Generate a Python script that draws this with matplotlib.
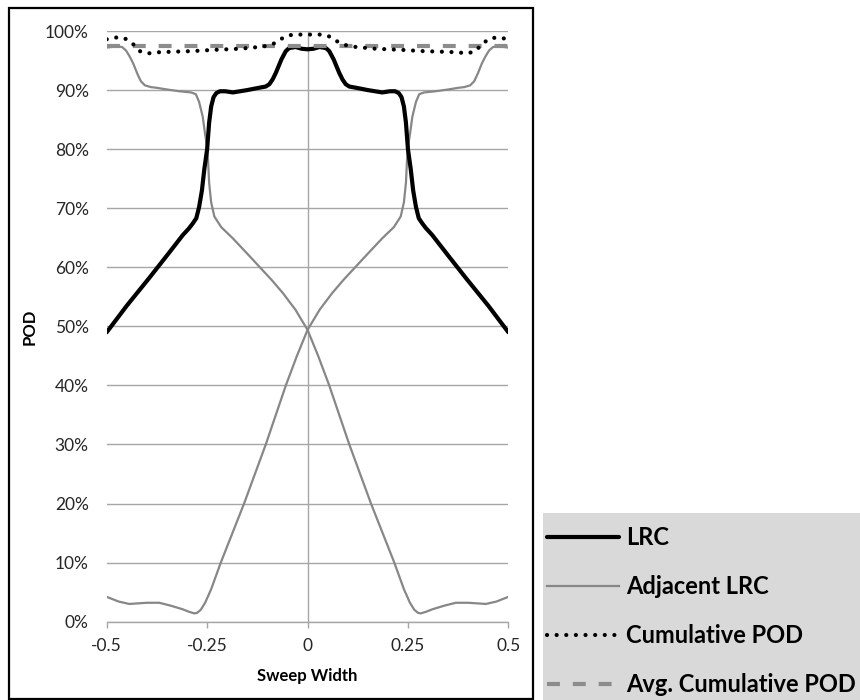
#!/usr/bin/env python3
# -*- coding: utf-8 -*-

import matplotlib
matplotlib.use("Agg")
import matplotlib.pyplot as plt
from matplotlib.patches import Rectangle
from matplotlib.ticker import PercentFormatter

plt.rcParams["font.family"] = ["Lato", "DejaVu Sans"]

# values (sweep width, POD in %)
lrc_x = [-0.5, -0.45, -0.394, -0.35, -0.31, -0.295, -0.286, -0.277, -0.27, -0.263,
         -0.257, -0.25, -0.245, -0.24, -0.234, -0.227, -0.218, -0.205, -0.186, -0.15,
         -0.12, -0.104, -0.095, -0.087, -0.079, -0.065, -0.054, -0.046, -0.03, -0.015,
         0.0, 0.015, 0.03, 0.046, 0.054, 0.065, 0.079, 0.087, 0.095, 0.104,
         0.12, 0.15, 0.186, 0.205, 0.218, 0.227, 0.234, 0.24, 0.245, 0.25,
         0.257, 0.263, 0.27, 0.277, 0.286, 0.295, 0.31, 0.35, 0.394, 0.45, 0.5]
lrc_y = [49.0, 53.5, 58.2, 62.0, 65.5, 66.6, 67.4, 68.3, 70.2, 73.0,
         76.6, 80.0, 84.5, 87.2, 88.8, 89.5, 89.8, 89.8, 89.6, 90.0,
         90.4, 90.6, 91.0, 91.8, 92.9, 95.2, 96.6, 97.1, 97.3, 97.0,
         96.9, 97.0, 97.3, 97.1, 96.6, 95.2, 92.9, 91.8, 91.0, 90.6,
         90.4, 90.0, 89.6, 89.8, 89.8, 89.5, 88.8, 87.2, 84.5, 80.0,
         76.6, 73.0, 70.2, 68.3, 67.4, 66.6, 65.5, 62.0, 58.2, 53.5, 49.0]

adj_left_x = [-0.5, -0.475, -0.462, -0.452, -0.443, -0.434, -0.424, -0.415, -0.405, -0.39,
              -0.377, -0.35, -0.319, -0.29, -0.278, -0.27, -0.261, -0.255, -0.249, -0.245,
              -0.24, -0.232, -0.215, -0.186, -0.15, -0.12, -0.09, -0.061, -0.03, 0.0,
              0.027, 0.054, 0.079, 0.104, 0.131, 0.158, 0.187, 0.216, 0.24, 0.255,
              0.266, 0.275, 0.282, 0.296, 0.311, 0.34, 0.369, 0.40, 0.444, 0.47, 0.5]
adj_left_y = [97.2, 97.4, 97.3, 96.7, 95.7, 94.5, 92.8, 91.5, 90.8, 90.5,
              90.4, 90.1, 89.8, 89.6, 89.3, 88.0, 85.5, 82.5, 79.9, 74.3,
              71.0, 68.6, 66.8, 64.9, 62.3, 60.1, 57.9, 55.6, 52.8, 49.4,
              44.9, 40.0, 35.0, 30.0, 25.0, 20.0, 15.0, 10.0, 5.5, 3.2,
              2.0, 1.5, 1.4, 1.7, 2.1, 2.7, 3.2, 3.2, 3.0, 3.4, 4.2]

adj_right_x = [-0.5, -0.47, -0.444, -0.40, -0.369, -0.34, -0.311, -0.296, -0.282, -0.275,
               -0.266, -0.255, -0.24, -0.216, -0.187, -0.158, -0.131, -0.104, -0.079, -0.054,
               -0.027, 0.0, 0.03, 0.061, 0.09, 0.12, 0.15, 0.186, 0.215, 0.232,
               0.24, 0.245, 0.249, 0.255, 0.261, 0.27, 0.278, 0.29, 0.319, 0.35,
               0.377, 0.39, 0.405, 0.415, 0.424, 0.434, 0.443, 0.452, 0.462, 0.475, 0.5]
adj_right_y = [4.2, 3.4, 3.0, 3.2, 3.2, 2.7, 2.1, 1.7, 1.4, 1.5,
               2.0, 3.2, 5.5, 10.0, 15.0, 20.0, 25.0, 30.0, 35.0, 40.0,
               44.9, 49.4, 52.8, 55.6, 57.9, 60.1, 62.3, 64.9, 66.8, 68.6,
               71.0, 74.3, 79.9, 82.5, 85.5, 88.0, 89.3, 89.6, 89.8, 90.1,
               90.4, 90.5, 90.8, 91.5, 92.8, 94.5, 95.7, 96.7, 97.3, 97.4, 97.2]

cum_x = [-0.5, -0.477, -0.456, -0.436, -0.418, -0.398, -0.373, -0.332, -0.286, -0.236,
         -0.169, -0.12, -0.10, -0.079, -0.058, -0.037, 0.0, 0.037, 0.058, 0.079,
         0.10, 0.12, 0.169, 0.236, 0.286, 0.332, 0.373, 0.398, 0.418, 0.436,
         0.456, 0.477, 0.5]
cum_y = [98.6, 98.9, 98.8, 97.9, 96.6, 96.2, 96.4, 96.5, 96.6, 96.8,
         97.0, 97.3, 97.5, 98.0, 99.0, 99.4, 99.4, 99.4, 99.0, 98.0,
         97.5, 97.3, 97.0, 96.8, 96.6, 96.5, 96.4, 96.2, 96.6, 97.9,
         98.8, 98.9, 98.6]

avg_x = [-0.5, 0.5]
avg_y = [97.5, 97.5]

x_ticks = [-0.5, -0.25, 0, 0.25, 0.5]
x_tick_labels = ["-0.5", "-0.25", "0", "0.25", "0.5"]

GRID = "#a6a6a6"
GRAY = "#878787"

fig = plt.figure(figsize=(8.6, 7.0), dpi=100)
ax = fig.add_axes([0.1241, 0.1119, 0.4670, 0.8438])

ax.plot(lrc_x, lrc_y, color="black", lw=3.0, solid_capstyle="round",
        solid_joinstyle="round", zorder=4, label="LRC")
ax.plot(adj_left_x, adj_left_y, color=GRAY, lw=1.6, zorder=3, label="Adjacent LRC")
ax.plot(adj_right_x, adj_right_y, color=GRAY, lw=1.6, zorder=3)
ax.plot(cum_x, cum_y, color="black", lw=3.0, linestyle=(0, (0.01, 2.3)),
        dash_capstyle="round", zorder=5, label="Cumulative POD")
ax.plot(avg_x, avg_y, color="#8c8c8c", lw=3.0, linestyle=(0, (3.1, 3.1)), zorder=4,
        label="Avg. Cumulative POD")

ax.set_xlim(-0.5, 0.5)
ax.set_ylim(0, 100)
ax.set_yticks(range(0, 101, 10))
ax.yaxis.set_major_formatter(PercentFormatter(decimals=0))
ax.set_xticks(x_ticks)
ax.set_xticklabels(x_tick_labels)

ax.grid(axis="y", color=GRID, lw=1.0)
ax.axvline(0, color=GRID, lw=1.0, zorder=1)
ax.set_axisbelow(True)
for s in ["top", "right", "left"]:
    ax.spines[s].set_visible(False)
ax.spines["bottom"].set_color(GRID)
ax.spines["bottom"].set_linewidth(1.0)

ax.tick_params(axis="y", length=0, pad=13, labelsize=12.5, labelcolor="#262626")
ax.tick_params(axis="x", length=4, width=1.0, color=GRID, pad=8, labelsize=12.5,
               labelcolor="#262626")

ax.set_xlabel("Sweep Width", fontsize=12, fontweight="bold", labelpad=10)
ax.set_ylabel("POD", fontsize=12, fontweight="bold", labelpad=5.5)

# outer chart border
fig.patches.append(Rectangle((0.0105, 0.0014), 0.6093, 0.9872, transform=fig.transFigure,
                             fill=False, edgecolor="black", lw=1.6, zorder=10))

# legend background
fig.patches.append(Rectangle((0.6314, 0.0), 0.40, 0.2671, transform=fig.transFigure,
                             facecolor="#d9d9d9", edgecolor="none", zorder=0))

handles, labels = ax.get_legend_handles_labels()
leg = fig.legend(handles, labels, loc="upper left", bbox_to_anchor=(0.636, 0.2486),
                 frameon=False, prop={"weight": "bold", "size": 17},
                 handlelength=3.05, handletextpad=0.3, labelspacing=1.1,
                 borderpad=0, borderaxespad=0)

fig.savefig("out.png", dpi=100)
